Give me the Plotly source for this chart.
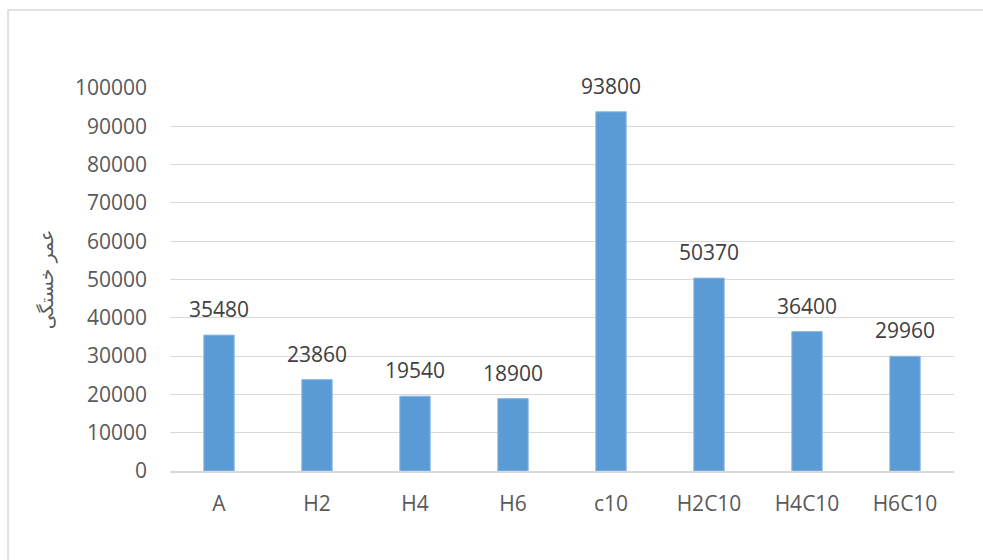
import plotly.graph_objects as go

# Fatigue life per specimen group
categories = ["A", "H2", "H4", "H6", "c10", "H2C10", "H4C10", "H6C10"]
fatigue_life = [35480, 23860, 19540, 18900, 93800, 50370, 36400, 29960]
y_ticks = [0, 10000, 20000, 30000, 40000, 50000, 60000, 70000, 80000, 90000, 100000]
y_title = "عمر خستگی"

FONT = "Open Sans, Liberation Sans, sans-serif"

fig = go.Figure()
fig.add_trace(go.Bar(
    x=categories,
    y=fatigue_life,
    marker=dict(color="#5B9BD5", line=dict(color="#8DB9E6", width=1)),
    hoverinfo="x+y",
))

# value labels above each bar
for cat, val in zip(categories, fatigue_life):
    fig.add_annotation(
        x=cat, y=val, text=str(val), showarrow=False,
        yanchor="bottom", yshift=10,
        font=dict(family=FONT, size=21, color="#404040"),
    )

# outer chart frame
fig.add_shape(
    type="rect", xref="paper", yref="paper",
    x0=-0.2066, x1=1.2, y0=-0.5, y1=1.2037,
    line=dict(color="#D9D9D9", width=1.5), fillcolor="rgba(0,0,0,0)",
    layer="below",
)

fig.update_layout(
    width=983, height=560,
    margin=dict(l=170, r=29, t=88, b=89),
    paper_bgcolor="white", plot_bgcolor="white",
    bargap=0.69,
    showlegend=False,
    font=dict(family=FONT, color="#595959"),
)
fig.update_xaxes(
    showgrid=False, showline=True, linecolor="#D9D9D9", linewidth=1.5,
    ticks="", tickfont=dict(family=FONT, size=21, color="#595959"),
    ticklabelstandoff=13,
)
fig.update_yaxes(
    range=[0, 100000], tickvals=y_ticks, ticktext=[str(v) for v in y_ticks],
    showgrid=True, gridcolor="#D9D9D9", gridwidth=1.2,
    zeroline=False, showline=False, ticks="",
    tickfont=dict(family=FONT, size=21, color="#595959"),
    ticklabelstandoff=22,
    title=dict(text=y_title, font=dict(family="DejaVu Sans, sans-serif", size=19, color="#595959"), standoff=16),
)

fig.write_html("out.html")
